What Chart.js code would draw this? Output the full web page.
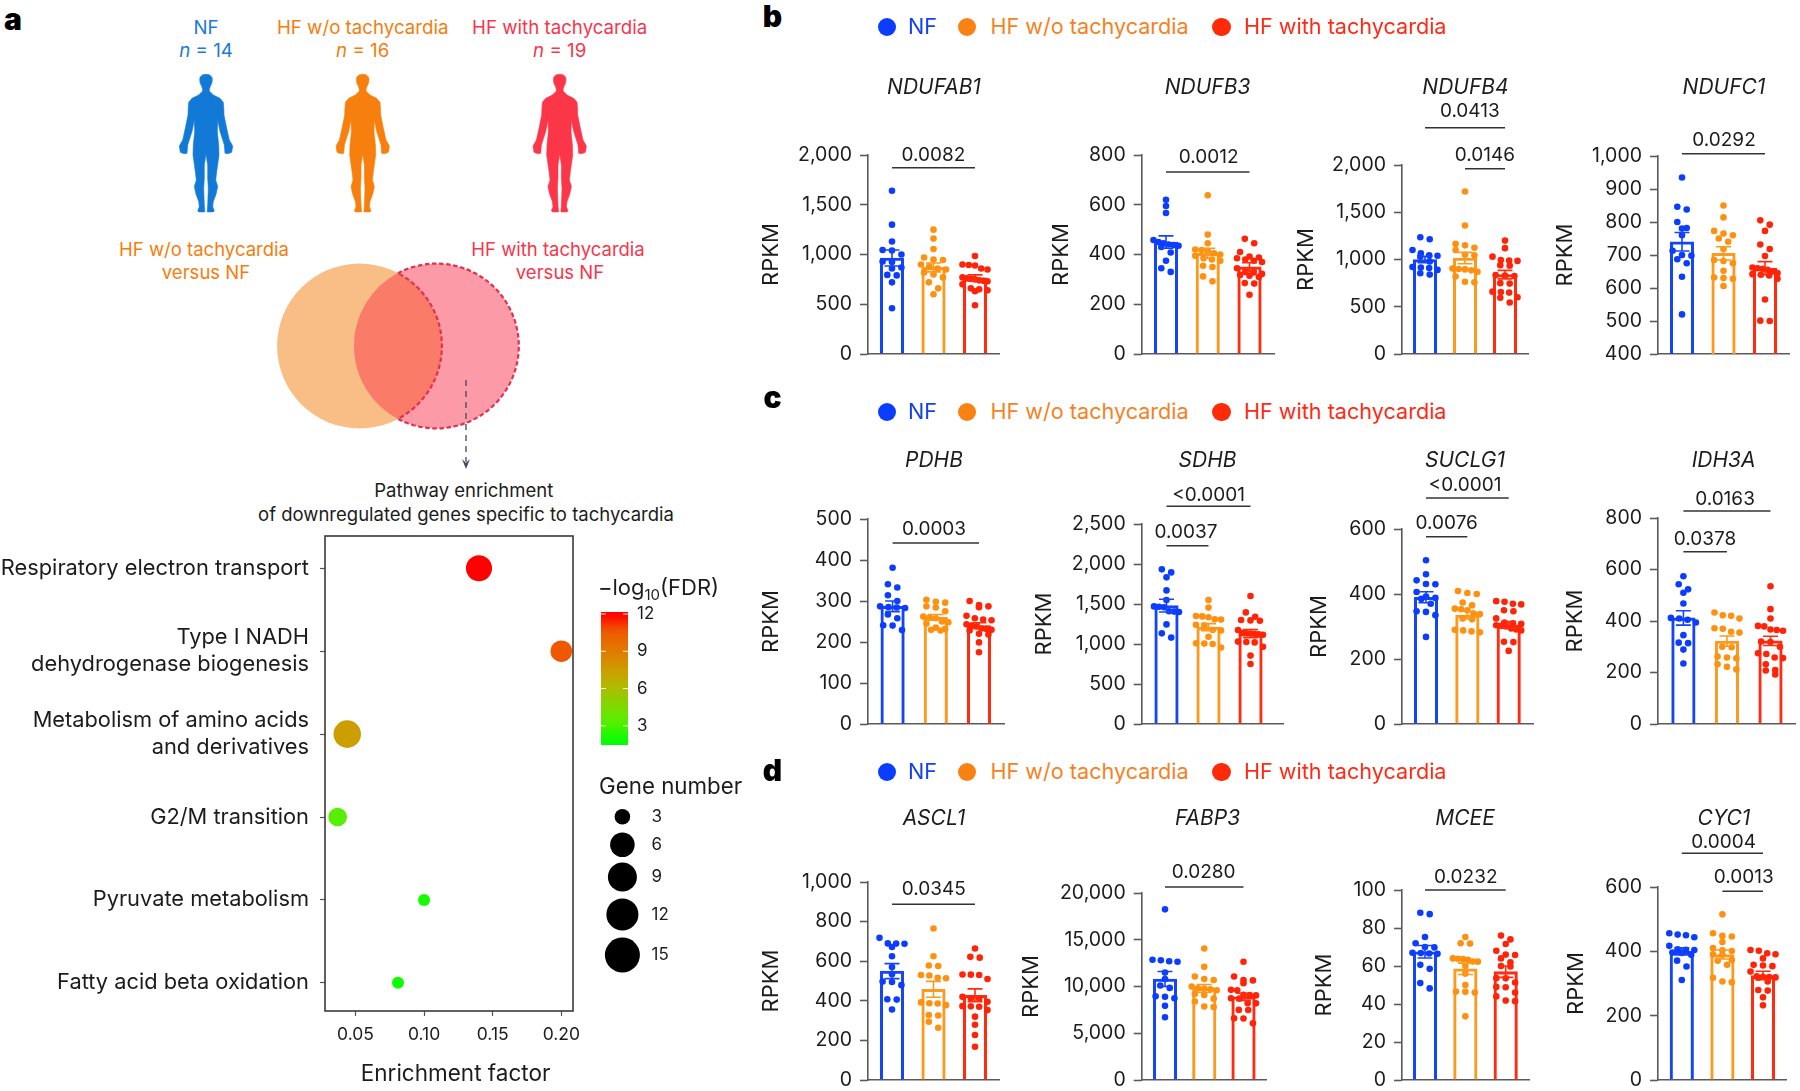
<!DOCTYPE html>
<html><head><meta charset="utf-8">
<script src="https://cdn.jsdelivr.net/npm/chart.js@4"></script>
<style>
html,body{margin:0;padding:0;background:#fff;width:1800px;height:1091px;overflow:hidden;font-family:Inter,sans-serif}
#page{position:relative;width:1800px;height:1091px}
canvas{position:absolute}
.t{position:absolute;white-space:nowrap;line-height:1;transform:translate(-50%,-50%)}
.k{position:absolute;border-radius:50%}
svg{position:absolute;left:0;top:0}
</style></head><body><div id="page">
<svg id="art" width="1800" height="1091"></svg>
</div>
<script>
/* ---------- panel a: enrichment ---------- */
const pathways=[["Respiratory electron transport"],["Type I NADH","dehydrogenase biogenesis"],["Metabolism of amino acids","and derivatives"],["G2/M transition"],["Pyruvate metabolism"],["Fatty acid beta oxidation"]];
const enrichment=[0.14,0.20,0.044,0.037,0.10,0.081];
const logFDR=[12,10.6,7.2,2.9,1.5,1.3];
const geneCount=[7,5,8,4,2,2];
const geneLegend=[3,6,9,12,15];
const fdrTicks=[12,9,6,3];

/* ---------- panels b,c,d: RPKM ---------- */
const groups=["NF","HF w/o tachycardia","HF with tachycardia"];
const NDUFAB1_NF=[1640,1300,1130,1045,1040,1000,930,925,870,860,795,790,720,460];
const NDUFAB1_noT=[1250,1160,1055,970,950,945,900,880,860,850,820,800,770,720,660,600];
const NDUFAB1_T=[985,900,895,890,860,850,770,760,755,750,740,735,730,700,660,650,640,630,490];
const NDUFAB1_mean=[965,870,765]; const NDUFAB1_sem=[80,45,30];
const NDUFB3_NF=[620,595,567,458,450,445,440,438,435,430,408,375,345,330];
const NDUFB3_noT=[638,480,445,420,418,415,405,400,395,385,380,375,355,350,312,292];
const NDUFB3_T=[463,445,410,392,388,385,380,375,370,345,330,328,322,318,315,310,285,283,238];
const NDUFB3_mean=[450,405,350]; const NDUFB3_sem=[25,20,17];
const NDUFB4_NF=[1235,1215,1100,1065,1045,1040,1030,980,920,915,910,890,855,840];
const NDUFB4_noT=[1720,1360,1165,1150,1125,1100,1050,1045,905,900,895,885,870,820,765,760];
const NDUFB4_T=[1200,1120,1030,995,990,985,940,935,835,830,825,750,745,660,655,650,600,595,545];
const NDUFB4_mean=[1000,1015,840]; const NDUFB4_sem=[33,60,45];
const NDUFC1_NF=[935,846,838,800,782,780,760,713,700,698,687,675,634,520];
const NDUFC1_noT=[850,814,773,765,760,750,740,718,685,682,675,652,632,630,628,606];
const NDUFC1_T=[805,792,773,732,718,697,662,660,658,655,650,645,642,640,638,628,565,501,500];
const NDUFC1_mean=[740,705,660]; const NDUFC1_sem=[28,20,20];
const PDHB_NF=[381,341,333,314,300,287,285,284,283,267,258,241,240,229];
const PDHB_noT=[303,298,296,287,284,275,262,260,258,250,248,245,235,232,230,228];
const PDHB_T=[300,290,287,285,264,258,255,253,243,240,238,233,232,230,228,220,218,199,175];
const PDHB_mean=[287,260,240]; const PDHB_sem=[13,7,7];
const SDHB_NF=[1933,1895,1833,1670,1550,1470,1465,1460,1410,1405,1400,1245,1133,1080];
const SDHB_noT=[1550,1455,1350,1345,1335,1310,1305,1240,1235,1175,1170,1090,1010,1005,1000,955];
const SDHB_T=[1600,1395,1340,1300,1295,1290,1175,1140,1135,1130,1125,1120,1115,1030,1025,1020,965,855,750];
const SDHB_mean=[1480,1210,1130]; const SDHB_sem=[80,45,50];
const SUCLG1_NF=[504,461,442,431,430,406,392,388,385,370,347,345,335,268];
const SUCLG1_noT=[409,403,400,374,365,355,353,350,340,338,325,322,290,288,285,282];
const SUCLG1_T=[378,376,370,368,350,347,325,312,310,308,304,302,300,294,291,288,253,252,225];
const SUCLG1_mean=[390,335,305]; const SUCLG1_sem=[17,12,10];
const IDH3A_NF=[574,543,523,510,468,412,410,405,394,345,316,314,289,235];
const IDH3A_noT=[433,422,420,410,372,370,358,355,300,298,262,258,255,232,222,212];
const IDH3A_T=[535,446,410,381,379,367,365,362,320,318,300,275,272,258,256,232,210,208,192];
const IDH3A_mean=[412,322,323]; const IDH3A_sem=[28,20,18];
const ASCL1_NF=[718,690,689,688,672,625,571,534,497,495,479,408,406,356];
const ASCL1_noT=[765,625,578,576,530,528,516,514,392,388,386,378,328,326,294,264];
const ASCL1_T=[664,622,618,533,532,530,510,420,412,410,395,373,372,370,353,320,279,227,168];
const ASCL1_mean=[550,458,428]; const ASCL1_sem=[38,40,32];
const FABP3_NF=[18250,12860,12800,12700,12650,11500,10800,10100,9850,8950,8900,8750,7930,6710];
const FABP3_noT=[14070,12100,11070,10800,10700,10000,9800,9750,9700,9600,9200,9100,8700,8400,7860,7800];
const FABP3_T=[12640,11070,10700,10650,10350,9640,9600,9100,9080,9050,8750,8700,8210,8200,7500,7490,6600,6580,6070];
const FABP3_mean=[10800,9800,8900]; const FABP3_sem=[800,420,380];
const MCEE_NF=[88,87.3,75.3,72,70,69.8,67,66.8,66.6,66.4,60.6,58.5,51,48.2];
const MCEE_noT=[75.3,72,71.8,64,63.8,63.6,63.3,62.4,62.3,60,56,50,46.6,46.4,46,33.5];
const MCEE_T=[76,74,71.6,68,66,65.8,64,62,60,59.8,53.6,53.5,51.3,49,48.8,46,44,41.8,41.5];
const MCEE_mean=[67.5,58.5,57]; const MCEE_sem=[3.3,3,3];
const CYC1_NF=[456,452,450,444,417,406,405,404,396,395,389,371,353,311];
const CYC1_noT=[515,456,448,446,429,410,403,401,391,389,373,371,358,318,306,304];
const CYC1_T=[404,402,394,391,378,358,356,354,337,322,321,320,319,318,306,280,278,257,232];
const CYC1_mean=[400,390,325]; const CYC1_sem=[11,14,13];

/* ---------- layout ---------- */
const TICK='#5a5a5a', INK='#1c1c1c';
const DOT=['#0b3dff','#ff9010','#ff2408'], BAR=['#1546f5','#fb9a1e','#ff2c10'];
const panels=[
 {gene:'NDUFAB1',vals:[NDUFAB1_NF,NDUFAB1_noT,NDUFAB1_T],mean:NDUFAB1_mean,sem:NDUFAB1_sem,axis:868,end:999,c:[892,975],top:155,bottom:354,rx:771,min:0,max:2000,step:500,ty:86,tx:934,
  br:[{a:1,b:3,y:167.7,p:'0.0082',px:933.5,py:155}]},
 {gene:'NDUFB3',vals:[NDUFB3_NF,NDUFB3_noT,NDUFB3_T],mean:NDUFB3_mean,sem:NDUFB3_sem,axis:1141.7,end:1274,c:[1166,1249.5],top:155,bottom:354,rx:1060.7,min:0,max:800,step:200,ty:86,tx:1207.6,
  br:[{a:1,b:3,y:172,p:'0.0012',px:1208.6,py:157.7}]},
 {gene:'NDUFB4',vals:[NDUFB4_NF,NDUFB4_noT,NDUFB4_T],mean:NDUFB4_mean,sem:NDUFB4_sem,axis:1402,end:1528,c:[1425,1505],top:165,bottom:354,rx:1306,min:0,max:2000,step:500,ty:86,tx:1465.5,
  br:[{a:1,b:3,y:127.7,p:'0.0413',px:1469.8,py:111.7},{a:2,b:3,y:168.7,p:'0.0146',px:1485,py:155}]},
 {gene:'NDUFC1',vals:[NDUFC1_NF,NDUFC1_noT,NDUFC1_T],mean:NDUFC1_mean,sem:NDUFC1_sem,axis:1658,end:1789.6,c:[1682,1765],top:156,bottom:354,rx:1565,min:400,max:1000,step:100,ty:86,tx:1724,
  br:[{a:1,b:3,y:153.7,p:'0.0292',px:1724,py:140.7}]},
 {gene:'PDHB',vals:[PDHB_NF,PDHB_noT,PDHB_T],mean:PDHB_mean,sem:PDHB_sem,axis:868,end:1004,c:[892.6,979],top:519,bottom:724,rx:771,min:0,max:500,step:100,ty:459,tx:934,
  br:[{a:1,b:3,y:543,p:'0.0003',px:934,py:529}]},
 {gene:'SDHB',vals:[SDHB_NF,SDHB_noT,SDHB_T],mean:SDHB_mean,sem:SDHB_sem,axis:1141.7,end:1283,c:[1166.5,1250.5],top:524,bottom:724,rx:1044,min:0,max:2500,step:500,ty:459,tx:1207.6,
  br:[{a:1,b:3,y:506.3,p:'<0.0001',px:1208.6,py:495},{a:1,b:2,y:545.7,p:'0.0037',px:1186,py:532.3}]},
 {gene:'SUCLG1',vals:[SUCLG1_NF,SUCLG1_noT,SUCLG1_T],mean:SUCLG1_mean,sem:SUCLG1_sem,axis:1402,end:1533,c:[1426,1508.7],top:529,bottom:724,rx:1319,min:0,max:600,step:200,ty:459,tx:1465,
  br:[{a:1,b:3,y:498,p:'<0.0001',px:1465,py:485.7},{a:1,b:2,y:536.7,p:'0.0076',px:1446.7,py:523.3}]},
 {gene:'IDH3A',vals:[IDH3A_NF,IDH3A_noT,IDH3A_T],mean:IDH3A_mean,sem:IDH3A_sem,axis:1658,end:1795.6,c:[1683.4,1770.5],top:518,bottom:724,rx:1574.6,min:0,max:800,step:200,ty:459,tx:1723.6,
  br:[{a:1,b:3,y:511,p:'0.0163',px:1725,py:499},{a:1,b:2,y:551.7,p:'0.0378',px:1705,py:539}]},
 {gene:'ASCL1',vals:[ASCL1_NF,ASCL1_noT,ASCL1_T],mean:ASCL1_mean,sem:ASCL1_sem,axis:868,end:999,c:[892,975],top:882,bottom:1080,rx:771,min:0,max:1000,step:200,ty:816.7,tx:934,
  br:[{a:1,b:3,y:904.3,p:'0.0345',px:933.8,py:889}]},
 {gene:'FABP3',vals:[FABP3_NF,FABP3_noT,FABP3_T],mean:FABP3_mean,sem:FABP3_sem,axis:1141.7,end:1266.6,c:[1165,1243.5],top:893,bottom:1080,rx:1030.5,min:0,max:20000,step:5000,ty:816.7,tx:1207.6,
  br:[{a:1,b:3,y:887,p:'0.0280',px:1203.6,py:872}]},
 {gene:'MCEE',vals:[MCEE_NF,MCEE_noT,MCEE_T],mean:MCEE_mean,sem:MCEE_sem,axis:1402,end:1529,c:[1425,1505.7],top:890,bottom:1080,rx:1323.5,min:0,max:100,step:20,ty:816.7,tx:1465,
  br:[{a:1,b:3,y:890,p:'0.0232',px:1465.8,py:877.7}]},
 {gene:'CYC1',vals:[CYC1_NF,CYC1_noT,CYC1_T],mean:CYC1_mean,sem:CYC1_sem,axis:1658,end:1786.6,c:[1681.8,1763],top:887,bottom:1080,rx:1575.6,min:0,max:600,step:200,ty:816.7,tx:1724,
  br:[{a:1,b:3,y:853.3,p:'0.0004',px:1723.6,py:842},{a:2,b:3,y:891.3,p:'0.0013',px:1743.7,py:877.3}]}
];

const page=document.getElementById('page');
Chart.defaults.font.family='Inter, sans-serif';
Chart.defaults.color=INK;
Chart.defaults.animation=false;
Chart.defaults.devicePixelRatio=1;
const off={legend:{display:false},tooltip:{enabled:false},title:{display:false}};

function text(html,cx,cy,size,color,extra){
  const d=document.createElement('div');d.className='t';d.innerHTML=html;
  d.style.cssText=`left:${cx}px;top:${cy}px;font-size:${size}px;color:${color};${extra||''}`;
  page.appendChild(d);return d;
}
function mkCanvas(l,t,w,h){
  const c=document.createElement('canvas');c.width=w;c.height=h;c.style.left=l+'px';c.style.top=t+'px';
  c.style.width=w+'px';c.style.height=h+'px';page.appendChild(c);return c;
}
/* nudge the layout padding until the plot area sits at the wanted place on the page */
function settle(ch,l,t,want){
  for(let i=0;i<2;i++){
    const a=ch.chartArea,P=ch.config.options.layout.padding;
    P.top+=want.top-t-a.top; P.bottom+=a.bottom-(want.bottom-t); P.right+=a.right-(want.right-l);
    ch.update();
  }
}
/* column-scatter placement: dots of similar height are spread symmetrically inside the bar */
function swarm(values,pxPerValue,pxPerUnit,center){
  const s=[...values].sort((a,b)=>b-a),out=[];let i=0;
  while(i<s.length){
    let j=i;while(j<s.length&&(s[i]-s[j])*pxPerValue<6)j++;
    const n=j-i,gap=Math.min(9.4,n>1?25/(n-1):9.4)/pxPerUnit;
    for(let k=0;k<n;k++){ out.push({x:center+(k-(n-1)/2)*gap,y:s[i+k]}); }
    i=j;
  }
  return out;
}
const fmt=v=>Number(v).toLocaleString('en-US');

panels.forEach(p=>{
  const pad=85, left=Math.round(p.rx-11), top=Math.round(p.top-pad);
  const w=Math.round(p.end)+2-left, h=Math.round(p.bottom)+30-top;
  const unit=(p.c[1]-p.c[0])/2;
  const xMin=1-(p.c[0]-p.axis)/unit, xMax=3+(p.end-p.c[1])/unit;
  const pxv=(p.bottom-p.top)/(p.max-p.min);
  const ds=[{type:'bar',order:3,data:p.mean.map((m,i)=>({x:i+1,y:m})),backgroundColor:'rgba(0,0,0,0)',borderColor:BAR,borderWidth:2.4,borderSkipped:'bottom',barThickness:23.5}];
  p.vals.forEach((v,i)=>ds.push({type:'scatter',order:1,data:swarm(v,pxv,unit,i+1),pointRadius:3.3,pointBorderWidth:0,backgroundColor:DOT[i],clip:false}));
  const deco={id:'deco',afterDatasetsDraw(ch){
    const g=ch.ctx,X=ch.scales.x,Y=ch.scales.y;
    g.save();
    p.mean.forEach((m,i)=>{
      const x=X.getPixelForValue(i+1),y1=Y.getPixelForValue(m-p.sem[i]),y2=Y.getPixelForValue(m+p.sem[i]);
      g.strokeStyle=BAR[i];g.lineWidth=1.6;g.beginPath();
      g.moveTo(x,y1);g.lineTo(x,y2);g.moveTo(x-7.5,y1);g.lineTo(x+7.5,y1);g.moveTo(x-7.5,y2);g.lineTo(x+7.5,y2);g.stroke();
    });
    g.strokeStyle='#333';g.lineWidth=1.5;g.fillStyle=INK;g.font='19px Inter, sans-serif';g.textAlign='center';g.textBaseline='middle';
    p.br.forEach(b=>{
      g.beginPath();g.moveTo(X.getPixelForValue(b.a),b.y-top);g.lineTo(X.getPixelForValue(b.b),b.y-top);g.stroke();
      g.fillText(b.p,b.px-left,b.py-top);
    });
    g.restore();
  }};
  const ch=new Chart(mkCanvas(left,top,w,h),{type:'bar',data:{datasets:ds},plugins:[deco],options:{
    responsive:false,maintainAspectRatio:false,events:[],
    layout:{autoPadding:false,padding:{left:0,top:pad,right:w-(p.end-left),bottom:30}},
    plugins:off,
    scales:{
      x:{type:'linear',min:xMin,max:xMax,offset:false,grid:{display:false},border:{color:TICK,width:1.6},ticks:{display:false},afterFit:s=>{s.height=0;}},
      y:{min:p.min,max:p.max,grid:{drawOnChartArea:false,drawTicks:true,tickLength:8,color:TICK,tickColor:TICK,tickWidth:1.6},border:{color:TICK,width:1.6},
         ticks:{stepSize:p.step,padding:8,color:INK,font:{size:19.5},callback:fmt,autoSkip:false,maxRotation:0},
         title:{display:true,text:'RPKM',color:INK,font:{size:22,lineHeight:1},padding:0},
         afterFit:s=>{s.width=p.axis-left;}}
    }
  }});
  settle(ch,left,top,{top:p.top,bottom:p.bottom,right:p.end});
  text('<i>'+p.gene+'</i>',p.tx,p.ty,21,INK);
});

/* ---------- legends of b, c, d ---------- */
const legendRows=[{y:27,l:'b',ly:16},{y:412,l:'c',ly:397},{y:772,l:'d',ly:770}];
const legendDot=[887,967,1221.5],legendX=[908,990.5,1244],legendCol=['#1440f0','#f5821f','#ff2a14'],keyCol=['#0b3dff','#fa8214','#ff2a08'];
legendRows.forEach(r=>{
  groups.forEach((g,i)=>{
    const k=document.createElement('div');k.className='k';
    k.style.cssText=`left:${legendDot[i]-9.3}px;top:${r.y-9.3}px;width:18.6px;height:18.6px;background:${keyCol[i]}`;page.appendChild(k);
    const d=text(g,legendX[i],r.y,21.6,legendCol[i]);d.style.transform='translate(0,-50%)';
  });
  text(r.l,772.5,r.ly,30,'#000','font-weight:900');
});
text('a',13,19,30,'#000','font-weight:900');

/* ---------- panel a: text ---------- */
const blue='#1a7ad6',orange='#f57d0c',pink='#f8354c';
text('NF',206,28.4,18.7,blue);text('<i>n</i> = 14',206,50.7,18.7,blue);
text('HF w/o tachycardia',362.7,28.4,18.7,orange);text('<i>n</i> = 16',362.7,50.7,18.7,orange);
text('HF with tachycardia',559.7,28.4,18.7,pink);text('<i>n</i> = 19',559.7,50.7,18.7,pink);
text('HF w/o tachycardia',204,249,18.5,orange);text('versus NF',206,272,18.5,orange);
text('HF with tachycardia',558,249,18.5,pink);text('versus NF',560,272,18.5,pink);
text('Pathway enrichment',463.7,490,18.5,INK);text('of downregulated genes specific to tachycardia',466,513.5,18.5,INK);

/* ---------- panel a: artwork ---------- */
const half=[[0,0],[3.5,.5],[6,3],[6.3,5.7],[5.8,9],[4.7,11.3],[3.6,14],[3.3,16.7],[7.3,20.7],[14,24],[17.3,28],[17.8,34],[18,40.7],[20.7,54],[23.3,65.7],[26.7,71.7],[25.7,78],[22,79.5],[19,79],[18.3,70.7],[14,57.3],[11.7,45.7],[11.3,57.3],[12.7,70.7],[13,80.7],[10.7,97.3],[9.7,105.7],[11.7,112.3],[10,120],[7.3,127.3],[6.7,132.3],[8.3,136.7],[7,137.6],[1.2,137.6],[1.7,130.7],[2.3,114],[1.7,104],[1.7,90.7],[0,80]];
function body(cx,col){
  const pts=half.map(([x,y])=>[cx+x,74.3+y]).concat(half.slice().reverse().map(([x,y])=>[cx-x,74.3+y]));
  return `<path d="M${pts.map(q=>q[0].toFixed(1)+' '+q[1].toFixed(1)).join('L')}Z" fill="${col}" stroke="${col}" stroke-width=".6" stroke-linejoin="round"/>`;
}
const R=82.4,L1=359.5,L2=436.4,CY=346,MX=(L1+L2)/2,H=Math.sqrt(R*R-Math.pow((L2-L1)/2,2));
document.getElementById('art').innerHTML=
  body(206,'#127ad6')+body(362.7,'#f77f0e')+body(559.7,'#fb3649')+
  `<circle cx="${L1}" cy="${CY}" r="${R}" fill="#f9bd86"/>`+
  `<circle cx="${L2}" cy="${CY}" r="${R}" fill="#fc9ba7"/>`+
  `<path d="M${MX} ${CY-H}A${R} ${R} 0 0 1 ${MX} ${CY+H}A${R} ${R} 0 0 1 ${MX} ${CY-H}Z" fill="#fa7b68"/>`+
  `<path d="M${MX} ${CY-H}A${R} ${R} 0 1 1 ${MX} ${CY+H}A${R} ${R} 0 0 0 ${MX} ${CY-H}Z" fill="none" stroke="#e2304f" stroke-width="2.2" stroke-dasharray="4.5 2.6"/>`+
  `<line x1="466" y1="380" x2="466" y2="462" stroke="#3d4a60" stroke-width="1.3" stroke-dasharray="6 5"/>`+
  `<path d="M462 459L466 463L470 459L466 469Z" fill="#3d4a60"/>`;

/* ---------- panel a: bubble chart ---------- */
const sizeKnots=[[2,6],[3,7.8],[6,12.3],[9,14.5],[12,16],[15,17.5]];
function radius(g){for(let i=1;i<sizeKnots.length;i++){const[a,ra]=sizeKnots[i-1],[b,rb]=sizeKnots[i];if(g<=b)return ra+(rb-ra)*(g-a)/(b-a);}return 17.5;}
const ramp=[[1,[0,255,0]],[3,[92,238,0]],[6,[180,184,0]],[7.2,[204,158,0]],[9,[226,120,0]],[10.6,[240,88,0]],[12,[255,0,0]]];
function fdrColor(v){for(let i=1;i<ramp.length;i++){const[a,ca]=ramp[i-1],[b,cb]=ramp[i];if(v<=b){const t=Math.max(0,(v-a)/(b-a));return`rgb(${ca.map((c,k)=>Math.round(c+(cb[k]-c)*t)).join(',')})`;}}return'rgb(255,0,0)';}

const CT=480;
const bubbleDeco={id:'bubbleDeco',
  afterDraw(ch){
    const g=ch.ctx,a=ch.chartArea,T=CT;
    g.save();
    g.strokeStyle='#3a3a3a';g.lineWidth=1.6;g.strokeRect(a.left,a.top,a.right-a.left,a.bottom-a.top);
    /* colour bar */
    const yTop=612-T,yBot=745-T,x0=601,x1=628;
    const yOf=v=>(614-T)+(12-v)*(725.8-614)/9;
    const grad=g.createLinearGradient(0,yTop,0,yBot);
    for(let k=0;k<=24;k++){const v=12.2-k*(12.2-0.87)/24;grad.addColorStop(k/24,fdrColor(v));}
    g.fillStyle=grad;g.fillRect(x0,yTop,x1-x0,yBot-yTop);
    g.strokeStyle='rgba(255,255,255,.9)';g.lineWidth=1;g.fillStyle=INK;g.font='17px Inter, sans-serif';g.textAlign='left';g.textBaseline='middle';
    fdrTicks.forEach(v=>{const y=yOf(v);g.beginPath();g.moveTo(x0,y);g.lineTo(x0+5,y);g.moveTo(x1-5,y);g.lineTo(x1,y);g.stroke();g.fillStyle=INK;g.fillText(v,637,y);});
    /* size legend */
    const ly=[816.8,844.8,877,914.4,955];
    geneLegend.forEach((n,i)=>{
      g.fillStyle='#000';g.beginPath();g.arc(622.4,ly[i]-T,radius(n),0,Math.PI*2);g.fill();
      g.fillStyle=INK;g.fillText(n,651.5,ly[i]-T);
    });
    g.restore();
  }};
const bubble=new Chart(mkCanvas(0,CT,750,1091-CT),{
  type:'bubble',
  data:{datasets:[{data:enrichment.map((x,i)=>({x,y:i,r:radius(geneCount[i])})),backgroundColor:logFDR.map(fdrColor),borderWidth:0,clip:false}]},
  plugins:[bubbleDeco],
  options:{responsive:false,maintainAspectRatio:false,events:[],plugins:off,
    layout:{autoPadding:false,padding:{left:0,top:536-CT,right:750-573,bottom:0}},
    scales:{
      x:{type:'linear',min:0.0278,max:0.2085,grid:{drawOnChartArea:false,tickLength:5,tickColor:'#555',tickWidth:1.2},border:{display:false},
         afterBuildTicks:s=>{s.ticks=[0.05,0.10,0.15,0.20].map(value=>({value}));},
         ticks:{padding:8,color:INK,font:{size:17.5},maxRotation:0,callback:v=>v.toFixed(2)},
         afterFit:s=>{s.height=80;}},
      y:{type:'linear',reverse:true,min:-0.39,max:5.34,grid:{drawOnChartArea:false,tickLength:5,tickColor:'#555',tickWidth:1.2},border:{display:false},
         afterBuildTicks:s=>{s.ticks=pathways.map((_,value)=>({value}));},
         ticks:{padding:11,color:INK,font:{size:21.8,lineHeight:1.22},autoSkip:false,callback:v=>pathways[v]},
         afterFit:s=>{s.width=325;}}
    }}
});
settle(bubble,0,CT,{top:536,bottom:1011,right:573});
text('Enrichment factor',455.6,1072.8,22.5,INK);
text('&minus;log<sub style="font-size:15px;line-height:0">10</sub>(FDR)',658.5,587,22,INK);
text('Gene number',670.6,786,22.3,INK);
</script></body></html>
